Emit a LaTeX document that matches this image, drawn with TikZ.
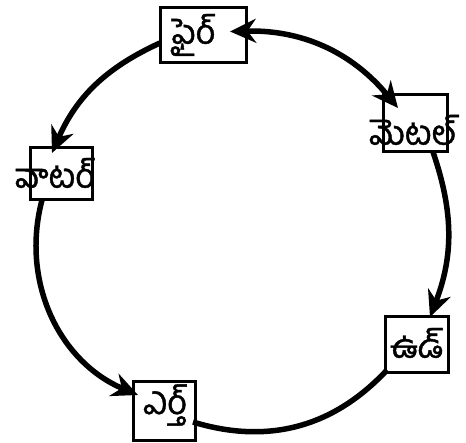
\documentclass[tikz,border=0pt]{standalone}
\usepackage{fontspec}
\newfontfamily\telugu[Script=Telugu,FakeBold=1.2]{Hind Guntur}
\usetikzlibrary{arrows.meta,calc}
\begin{document}
\begin{tikzpicture}[x=1pt,y=1pt,
  box/.style={draw,line width=3pt,inner sep=0pt},
  lbl/.style={font=\telugu\fontsize{34}{34}\selectfont,inner sep=0pt},
  conn/.style={line width=5.5pt},
  tip/.style={-{Stealth[length=26pt,width=24pt]}},
  tips/.style={{Stealth[length=26pt,width=24pt]}-{Stealth[length=26pt,width=24pt]}}]
\useasboundingbox (0,0) rectangle (466,442);
\node[box,minimum width=86pt,minimum height=55pt] (fire) at (203,406.5) {};
\node[box,minimum width=64pt,minimum height=57pt] (metal) at (415,319) {};
\node[box,minimum width=62pt,minimum height=52pt] (water) at (61,268) {};
\node[box,minimum width=63pt,minimum height=56pt] (wood) at (416.5,97) {};
\node[box,minimum width=62pt,minimum height=58pt] (earth) at (164,31) {};
\node[lbl] (firet) at (193,407) {ఫైర్};
\node[lbl] (metalt) at (413,312) {మెటల్};
\node[lbl] (watert) at (55,269) {వాటర్};
\node[lbl] (woodt) at (417,99) {ఉడ్};
\node[lbl] (eartht) at (165,37) {ఎర్త్};
\draw[conn,tips] ([shift={(27,4)}]fire.center) to[bend left=26] ([shift={(-17,15)}]metal.center);
\draw[conn,tip] ([shift={(18,-29)}]metal.center) to[bend left=20] ([shift={(13.5,28)}]wood.center);
\draw[conn] ([shift={(-29.5,-25)}]wood.center) to[bend left=32] ([shift={(29,-11)}]earth.center);
\draw[conn,tip] ([shift={(-43,-7.5)}]fire.center) to[bend right=21] ([shift={(-9,21)}]water.center);
\draw[conn,tip] ([shift={(-19,-26)}]water.center) to[bend right=41] ([shift={(-26,16)}]earth.center);
\end{tikzpicture}
\end{document}
